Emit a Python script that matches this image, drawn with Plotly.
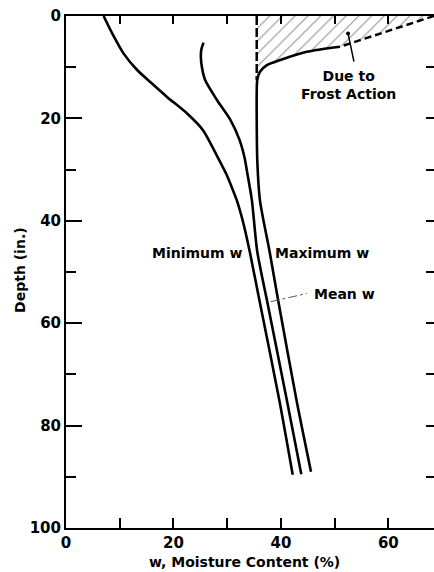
import plotly.graph_objects as go

# Moisture-content profiles: depth (in.) and w (%)
MIN_DEPTH = [0.0, 3.4, 7.3, 10.5, 13.2, 15.8, 19.0, 22.3, 27.5, 31.0, 33.3, 36.0, 40.0, 46.0, 55.0, 75.0, 89.6]
MIN_W = [7.0, 8.6, 10.7, 13.2, 16.0, 18.8, 22.5, 25.5, 28.2, 29.9, 30.8, 31.8, 32.9, 34.2, 35.9, 39.7, 42.2]

MEAN_DEPTH = [5.2, 6.5, 7.9, 10.0, 12.5, 16.4, 20.3, 24.2, 27.5, 31.0, 36.0, 46.0, 55.0, 75.0, 89.5]
MEAN_W = [25.6, 25.2, 25.1, 25.3, 25.9, 28.1, 30.6, 32.3, 33.2, 33.8, 34.6, 35.6, 37.3, 41.1, 43.8]

# Maximum profile; the first points (near the surface) are the frost-action bulge
MAX_DEPTH = [0.0, 2.9, 6.0, 7.0, 8.6, 9.6, 10.9, 12.5, 15.0, 20.0, 28.0, 36.0, 46.0, 55.0, 75.0, 89.0]
MAX_W = [68.5, 60.0, 51.0, 44.8, 39.9, 37.4, 36.1, 35.6, 35.5, 35.5, 35.6, 36.1, 37.9, 39.4, 42.9, 45.6]
FROST_POINTS = 3          # number of leading max points drawn dashed
FROST_LEFT_W = 35.5       # left edge of the frost zone

X_RANGE = [0, 68.5]
Y_RANGE = [100, 0]
Y_TICKS = [0, 20, 40, 60, 80, 100]
X_TICKS = [0, 20, 40, 60]

FONT = "DejaVu Sans"
BLACK = "black"

fig = go.Figure()

# Hatched frost-action zone between the surface and the max curve
bulge_d = MAX_DEPTH[:8]
bulge_w = MAX_W[:8]
zone_w = [FROST_LEFT_W, bulge_w[0]] + bulge_w[1:] + [FROST_LEFT_W]
zone_d = [0.0, 0.0] + bulge_d[1:] + [bulge_d[-1]]
fig.add_trace(go.Scatter(
    x=zone_w, y=zone_d, mode="lines", fill="toself",
    line=dict(width=0, color="rgba(0,0,0,0)"),
    fillcolor="white",
    fillpattern=dict(shape="/", size=9, solidity=0.12, fgcolor="#222", bgcolor="white"),
    hoverinfo="skip", showlegend=False))

# Left edge of frost zone (dashed)
fig.add_trace(go.Scatter(
    x=[FROST_LEFT_W, FROST_LEFT_W], y=[0.0, bulge_d[-1]], mode="lines",
    line=dict(color=BLACK, width=2.5, dash="9px,3px"), showlegend=False, hoverinfo="skip"))

# Dashed upper part of the max curve
fig.add_trace(go.Scatter(
    x=MAX_W[:FROST_POINTS], y=MAX_DEPTH[:FROST_POINTS], mode="lines",
    line=dict(color=BLACK, width=2.5, dash="7px,4px"), showlegend=False, hoverinfo="skip"))

curve_line = dict(color=BLACK, width=2.6, shape="spline", smoothing=0.7)
fig.add_trace(go.Scatter(x=MAX_W[FROST_POINTS - 1:], y=MAX_DEPTH[FROST_POINTS - 1:],
                         mode="lines", line=curve_line, showlegend=False, hoverinfo="skip"))
fig.add_trace(go.Scatter(x=MEAN_W, y=MEAN_DEPTH, mode="lines", line=curve_line,
                         showlegend=False, hoverinfo="skip"))
fig.add_trace(go.Scatter(x=MIN_W, y=MIN_DEPTH, mode="lines", line=curve_line,
                         showlegend=False, hoverinfo="skip"))

# Dummy trace so the top and right axes are drawn
fig.add_trace(go.Scatter(x=[None], y=[None], xaxis="x2", yaxis="y2",
                         showlegend=False, hoverinfo="skip"))

label_font = dict(family=FONT, size=14, color=BLACK, weight="bold")

# Curve labels
fig.add_annotation(x=33.4, y=46.2, text="Minimum w", showarrow=False,
                   xanchor="right", yanchor="middle", font=label_font)
fig.add_annotation(x=38.6, y=46.2, text="Maximum w", showarrow=False,
                   xanchor="left", yanchor="middle", font=label_font)
fig.add_annotation(x=45.8, y=54.3, text="Mean w", showarrow=False,
                   xanchor="left", yanchor="middle", font=label_font)
fig.add_annotation(x=52.5, y=13.5, text="Due to<br>Frost Action", showarrow=False,
                   xanchor="center", yanchor="middle", align="center", font=label_font)

# Leader lines
fig.add_shape(type="line", x0=38.1, y0=55.8, x1=44.8, y1=54.2,
              line=dict(color="#555", width=1, dash="dashdot"))
fig.add_shape(type="line", x0=52.5, y0=3.4, x1=53.6, y1=8.9,
              line=dict(color=BLACK, width=1.5))
fig.add_trace(go.Scatter(x=[52.5], y=[3.4], mode="markers",
                         marker=dict(color=BLACK, size=4), showlegend=False, hoverinfo="skip"))

# Axis titles
fig.add_annotation(xref="paper", yref="paper", x=0.484, y=-0.067,
                   text="w, Moisture Content (%)", showarrow=False,
                   xanchor="center", yanchor="middle", font=label_font)
fig.add_annotation(xref="paper", yref="paper", x=-0.125, y=0.504,
                   text="Depth (in.)", showarrow=False, textangle=-90,
                   xanchor="center", yanchor="middle", font=label_font)

tick_font = dict(family=FONT, size=15, color=BLACK, weight="bold")

fig.update_layout(
    width=434, height=572,
    margin=dict(l=66, r=0, t=16, b=44),
    paper_bgcolor="white", plot_bgcolor="white",
    showlegend=False,
    xaxis=dict(range=X_RANGE, tickvals=X_TICKS, ticktext=[str(v) for v in X_TICKS],
               ticks="inside", ticklen=10, tickwidth=2, tickcolor=BLACK,
               minor=dict(dtick=10, tick0=0, ticks="inside", ticklen=10, tickwidth=2, tickcolor=BLACK),
               showline=True, linewidth=2, linecolor=BLACK, showgrid=False, zeroline=False,
               tickfont=tick_font),
    yaxis=dict(range=Y_RANGE, tickvals=Y_TICKS, ticktext=[str(v) for v in Y_TICKS],
               ticks="inside", ticklen=16, tickwidth=2, tickcolor=BLACK,
               minor=dict(dtick=10, tick0=0, ticks="inside", ticklen=10, tickwidth=2, tickcolor=BLACK),
               showline=True, linewidth=2, linecolor=BLACK, showgrid=False, zeroline=False,
               tickfont=tick_font),
    xaxis2=dict(range=X_RANGE, overlaying="x", side="top", dtick=10, tick0=0,
                ticks="inside", ticklen=8, tickwidth=2, tickcolor=BLACK,
                showticklabels=False, showline=True, linewidth=2, linecolor=BLACK,
                showgrid=False, zeroline=False),
    yaxis2=dict(range=Y_RANGE, overlaying="y", side="right", dtick=10, tick0=0,
                ticks="inside", ticklen=8, tickwidth=2, tickcolor=BLACK,
                showticklabels=False, showline=False, showgrid=False, zeroline=False),
)

fig.write_html("out.html")
